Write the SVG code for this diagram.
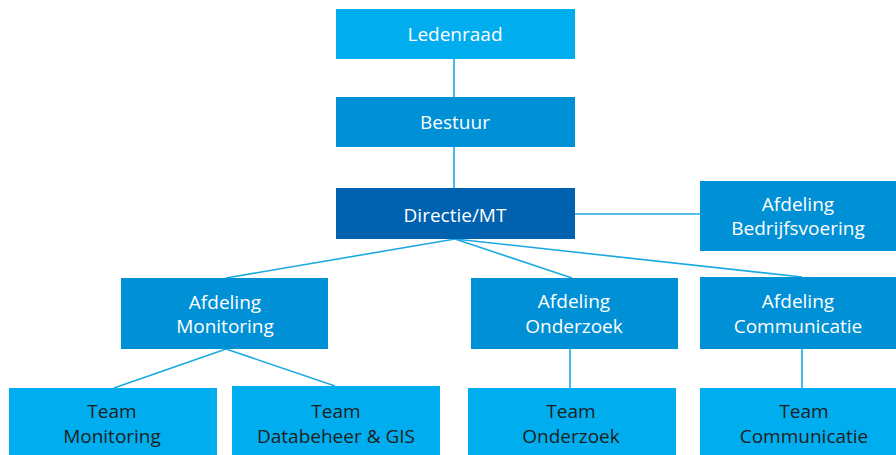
<svg xmlns="http://www.w3.org/2000/svg" width="896" height="455" viewBox="0 0 896 455">
<style>
.l1{fill:#00AEEF}
.l2{fill:#0090D5}
.l3{fill:#0061AF}
text{font-family:"Open Sans","Noto Sans","Liberation Sans",sans-serif;font-size:19px;font-weight:500;text-anchor:middle}
.w{fill:#ffffff}
.d{fill:#1d1d1b}
.c{stroke:#1BA9E1;stroke-width:1.6;fill:none}
</style>
<rect width="896" height="455" fill="#ffffff"/>
<g id="connectors">
<line class="c" x1="454" y1="59" x2="454" y2="97"/>
<line class="c" x1="454" y1="147" x2="454" y2="188"/>
<line class="c" x1="575" y1="214" x2="700" y2="214"/>
<line class="c" x1="455" y1="239" x2="226" y2="278"/>
<line class="c" x1="455" y1="239" x2="572" y2="278"/>
<line class="c" x1="455" y1="239" x2="802" y2="277"/>
<line class="c" x1="226" y1="349" x2="114" y2="388"/>
<line class="c" x1="226" y1="349" x2="335" y2="386"/>
<line class="c" x1="570" y1="349" x2="570" y2="388"/>
<line class="c" x1="802" y1="349" x2="802" y2="388"/>
</g>
<g id="ledenraad"><rect class="l1" x="336" y="9" width="239" height="50"/><text class="w" x="455" y="41">Ledenraad</text></g>
<g id="bestuur"><rect class="l2" x="336" y="97" width="239" height="50"/><text class="w" x="455" y="129">Bestuur</text></g>
<g id="directie"><rect class="l3" x="336" y="188" width="239" height="51"/><text class="w" x="455" y="222">Directie/MT</text></g>
<g id="afd-bedrijfsvoering"><rect class="l2" x="700" y="181" width="196" height="70"/><text class="w" x="798" y="211">Afdeling</text><text class="w" x="798" y="235">Bedrijfsvoering</text></g>
<g id="afd-monitoring"><rect class="l2" x="121" y="278" width="207" height="71"/><text class="w" x="225" y="309">Afdeling</text><text class="w" x="225" y="333">Monitoring</text></g>
<g id="afd-onderzoek"><rect class="l2" x="471" y="278" width="207" height="71"/><text class="w" x="574" y="308">Afdeling</text><text class="w" x="574" y="333">Onderzoek</text></g>
<g id="afd-communicatie"><rect class="l2" x="700" y="277" width="196" height="72"/><text class="w" x="798" y="308">Afdeling</text><text class="w" x="798" y="333">Communicatie</text></g>
<g id="team-monitoring"><rect class="l1" x="9" y="388" width="208" height="67"/><text class="d" x="112" y="418">Team</text><text class="d" x="112" y="443">Monitoring</text></g>
<g id="team-databeheer"><rect class="l1" x="232" y="386" width="208" height="69"/><text class="d" x="336" y="418">Team</text><text class="d" x="336" y="443">Databeheer &amp; GIS</text></g>
<g id="team-onderzoek"><rect class="l1" x="468" y="388" width="208" height="67"/><text class="d" x="571" y="418">Team</text><text class="d" x="571" y="443">Onderzoek</text></g>
<g id="team-communicatie"><rect class="l1" x="700" y="388" width="196" height="67"/><text class="d" x="804" y="418">Team</text><text class="d" x="804" y="443">Communicatie</text></g>
</svg>
